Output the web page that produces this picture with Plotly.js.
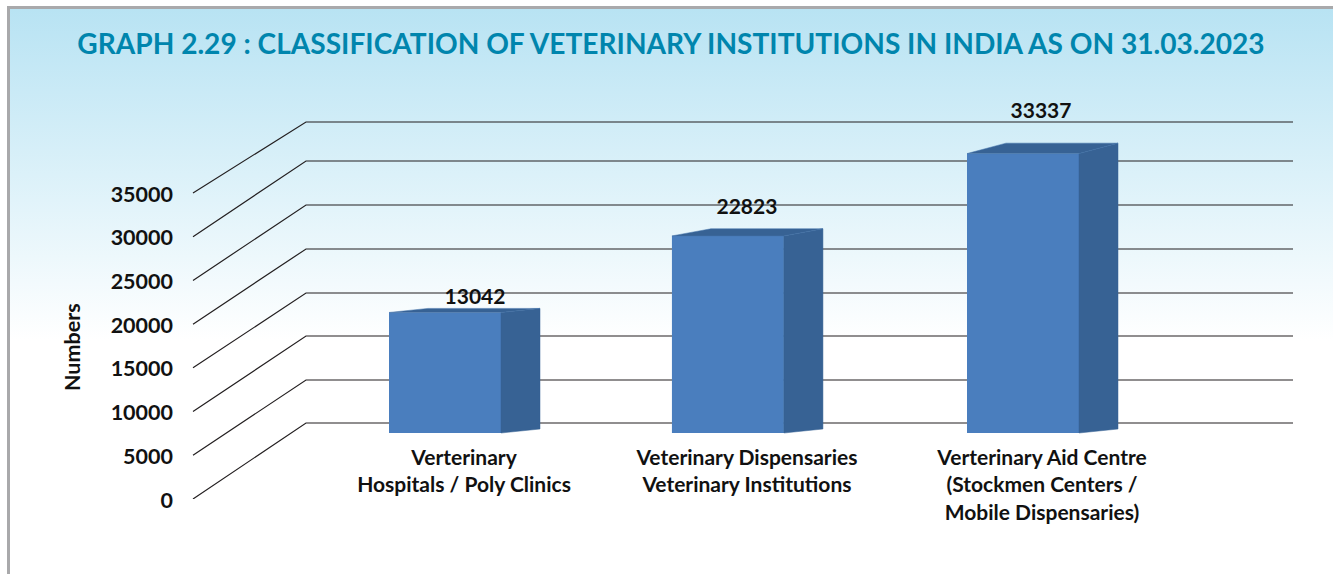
<!DOCTYPE html>
<html>
<head>
<meta charset="utf-8">
<script src="https://cdn.plot.ly/plotly-3.0.1.min.js"></script>
<style>
html,body{margin:0;padding:0;background:#fff;width:1333px;height:574px;overflow:hidden}
#frame{position:absolute;left:7px;top:6px;width:1326px;height:568px;box-sizing:border-box;
  border-left:3px solid #a9a9ab;border-top:3px solid #a9a9ab;
  background:linear-gradient(to bottom,#b8e3f3 0px,#ffffff 332px,#ffffff 100%)}
#chart{position:absolute;left:0;top:0;width:1333px;height:574px}
</style>
</head>
<body>
<div id="frame"></div>
<div id="chart"></div>
<script>
// ---- data ----
const titleText = 'GRAPH 2.29 : CLASSIFICATION OF VETERINARY INSTITUTIONS IN INDIA AS ON 31.03.2023';
const categories = ['Verterinary<br>Hospitals / Poly Clinics',
                    'Veterinary Dispensaries<br>Veterinary Institutions',
                    'Verterinary Aid Centre<br>(Stockmen Centers /<br>Mobile Dispensaries)'];
const values = [13042, 22823, 33337];
const yTicks = [0, 5000, 10000, 15000, 20000, 25000, 30000, 35000];

// ---- layout constants ----
const W = 1333, H = 574, F = 'Lato, "Open Sans", sans-serif';
const barSlots = [0, 0.979, 2];            // bar centres, in category-index units
const pxPerSlot = 289, firstBarPx = 445;
const xu = px => (px - firstBarPx) / pxPerSlot;
const barW = 112 / pxPerSlot, barDX = 39 / pxPerSlot, tickDX = 19 / pxPerSlot;
const labelShift = [30, 19, 18].map(p => p / pxPerSlot);

// every vertical axis shares the same pixel span
const axisBottomPx = 499, axisTopPx = 90;
const dom = [(H - axisBottomPx) / H, (H - axisTopPx) / H];

// front tick axis and back wall (rise of each wall line above the wall floor, in px)
const frontPx = 306 / 35000;
const wallRise = [0, 43, 87, 130, 174, 218, 262, 301];
const wallValue = i => (76 + wallRise[i]) / frontPx;

// grid: slanted floor-to-wall segment + horizontal wall line for every tick
const gx = [], gy = [];
yTicks.forEach((v, i) => {
  gx.push(xu(193), xu(306), xu(1293), null);
  gy.push(v, wallValue(i), wallValue(i), null);
});

// bar axis: bars stand on the floor line at px 433
const barBase = -2350, barScale = 0.00783;
const barRange = [barBase - (axisBottomPx - 433) / barScale, barBase + (433 - axisTopPx) / barScale];
const labelScale = 0.00916, labelZeroPx = 418;
const labelRange = [(labelZeroPx - axisBottomPx) / labelScale, (labelZeroPx - axisTopPx) / labelScale];
const depth = v => v * 0.04;

const sideX = [], sideY = [], topX = [], topY = [];
values.forEach((v, i) => {
  const l = barSlots[i] - barW / 2, r = barSlots[i] + barW / 2, d = depth(v), s = 4 / barScale;
  sideX.push(r, r + barDX, r + barDX, r, r, null);
  sideY.push(v, v + d, barBase + s, barBase, v, null);
  topX.push(l, l + barDX, r + barDX, r, l, null);
  topY.push(v, v + d, v + d, v, v, null);
});

const traces = [
  {type: 'scatter', mode: 'lines', x: gx, y: gy, xaxis: 'x', yaxis: 'y',
   line: {color: '#231f20', width: 1.2}, hoverinfo: 'skip', showlegend: false},
  {type: 'scatter', mode: 'lines', x: sideX, y: sideY, xaxis: 'x', yaxis: 'y2', fill: 'toself',
   fillcolor: '#376294', line: {color: '#376294', width: 0.5}, hoverinfo: 'skip', showlegend: false},
  {type: 'scatter', mode: 'lines', x: topX, y: topY, xaxis: 'x', yaxis: 'y2', fill: 'toself',
   fillcolor: '#376294', line: {color: '#4273aa', width: 0.5}, hoverinfo: 'skip', showlegend: false},
  {type: 'bar', x: barSlots, y: values.map(v => v - barBase), base: barBase, width: barW, xaxis: 'x', yaxis: 'y2',
   marker: {color: '#4a7ebe', line: {width: 0}}, hoverinfo: 'skip', showlegend: false},
  {type: 'scatter', mode: 'text', x: barSlots.map((s, i) => s + labelShift[i]), y: values,
   text: values.map(String), textposition: 'middle center', xaxis: 'x', yaxis: 'y3',
   textfont: {family: F, size: 21, color: '#111', weight: 700}, hoverinfo: 'skip', showlegend: false}
];

const hidden = {visible: false, fixedrange: true, overlaying: 'y', anchor: 'x'};
const layout = {
  width: W, height: H, margin: {l: 0, r: 0, t: 0, b: 0}, autosize: false,
  paper_bgcolor: 'rgba(0,0,0,0)', plot_bgcolor: 'rgba(0,0,0,0)', showlegend: false,
  title: {text: '<b>' + titleText + '</b>', x: 671 / W, xanchor: 'center', y: 1 - 44 / H, yanchor: 'middle',
          font: {family: F, size: 28.1, color: '#0085ad'}},
  font: {family: F, color: '#111'},
  xaxis: {domain: [0, 1], range: [xu(0), xu(W)], showgrid: false, zeroline: false, showline: false,
          tickmode: 'array', tickvals: barSlots.map(s => s + tickDX), ticktext: categories, anchor: 'free',
          position: (H - 433) / H, ticks: '', ticklabelstandoff: 10,
          tickfont: {family: F, size: 21, color: '#111', weight: 700}, fixedrange: true},
  yaxis: {domain: dom, range: [0, (axisBottomPx - axisTopPx) / frontPx], anchor: 'free', position: 193 / W,
          showgrid: false, zeroline: false, showline: false, tickmode: 'array', tickvals: yTicks,
          ticktext: yTicks.map(String), ticks: '', ticklabelstandoff: 20, ticklabelshift: 1,
          tickfont: {family: F, size: 21.5, color: '#111', weight: 700}, fixedrange: true},
  yaxis2: Object.assign({range: barRange}, hidden),
  yaxis3: Object.assign({range: labelRange}, hidden),
  annotations: [{text: '<b>Numbers</b>', xref: 'paper', yref: 'paper', x: 72 / W, y: (H - 347) / H,
                 xanchor: 'center', yanchor: 'middle', textangle: -90, showarrow: false,
                 font: {family: F, size: 21.5, color: '#111'}}]
};
Plotly.newPlot('chart', traces, layout, {staticPlot: true, displayModeBar: false});
</script>
</body>
</html>
